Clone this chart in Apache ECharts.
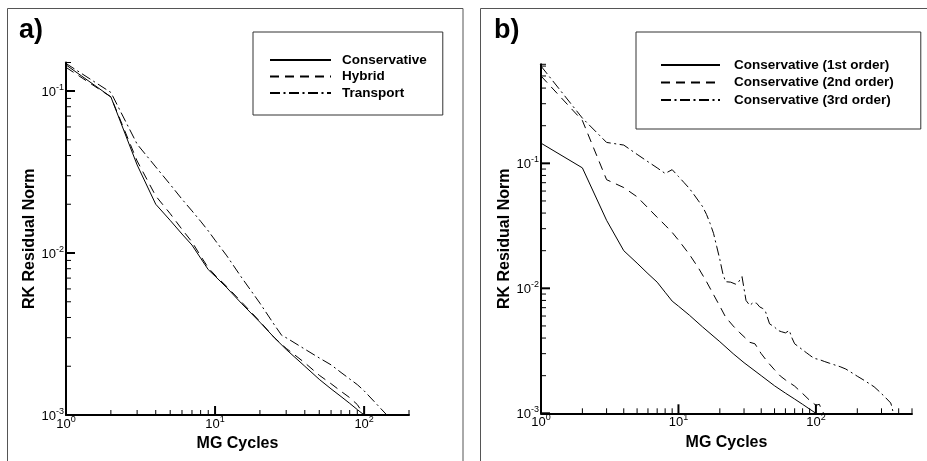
<!DOCTYPE html>
<html>
<head>
<meta charset="utf-8">
<script src="https://cdn.jsdelivr.net/npm/echarts@6/dist/echarts.min.js"></script>
<style>
  html, body { margin: 0; padding: 0; background: #fff; }
  #chart { width: 927px; height: 461px; }
</style>
</head>
<body>
<div id="chart"></div>
<script>
// panel a) : conservative / hybrid / transport
const cyclesA = [1, 2, 3, 4, 5, 6, 7, 8, 9, 10, 12, 15, 20, 25, 30, 40, 50, 60, 70, 80, 90, 100]
const conservative = [0.145, 0.092, 0.035, 0.020, 0.0159, 0.0131, 0.0112, 0.0093, 0.0079, 0.0072, 0.0061, 0.0049,
    0.00374, 0.0030, 0.00254, 0.0020, 0.00166, 0.00145, 0.0013, 0.00118, 0.00108, 0.001]
const hybrid = [0.140, 0.092, 0.037, 0.0225, 0.0175, 0.0140, 0.0117, 0.0096, 0.0081, 0.0073, 0.0062, 0.0050,
    0.00378, 0.0030, 0.00258, 0.0021, 0.00176, 0.00156, 0.0014, 0.00128, 0.00116, 0.001]
const cyclesTransport = [1, 2, 3, 4, 5, 6, 7, 8, 9, 10, 12, 15, 20, 25, 28, 30, 40, 50, 60, 70, 80, 90, 100, 120, 142]
const transport = [0.148, 0.098, 0.047, 0.034, 0.0265, 0.0215, 0.0182, 0.0157, 0.0137, 0.0120, 0.0096, 0.0071,
    0.0049, 0.0036, 0.0031, 0.0030, 0.00255, 0.00225, 0.00204, 0.00183, 0.00167, 0.00154, 0.00141, 0.00118, 0.001]

// panel b) : conservative, 1st / 2nd / 3rd order
const cycles1st = cyclesA
const order1st = conservative
const cycles2nd = [1, 2, 3, 4, 5, 6, 7, 8, 9, 10, 12, 14, 16, 18, 20, 22, 25, 28, 30, 33, 36, 40, 45, 50, 55, 60,
    70, 80, 90, 100, 106, 110, 114]
const order2nd = [0.50, 0.22, 0.074, 0.064, 0.054, 0.044, 0.037, 0.032, 0.028, 0.0243, 0.0187, 0.0145, 0.0113,
    0.0089, 0.0072, 0.0059, 0.0050, 0.0044, 0.0041, 0.0037, 0.0036, 0.0030, 0.00254, 0.00223, 0.00199, 0.00185,
    0.00165, 0.00144, 0.00127, 0.00116, 0.00118, 0.00106, 0.001]
const cycles3rd = [1, 2, 3, 4, 5, 6, 7, 8, 9, 10, 11, 12, 13, 14, 15, 16, 17, 18, 19, 20, 21, 22, 24, 26, 27, 29,
    31, 33, 35, 37, 39, 41, 43, 46, 50, 53, 56, 60, 64, 67, 70, 75, 80, 85, 90, 97, 105, 115, 125, 135, 150, 165,
    180, 200, 220, 240, 265, 290, 320, 350, 355, 366]
const order3rd = [0.60, 0.23, 0.147, 0.14, 0.118, 0.103, 0.092, 0.083, 0.089, 0.0785, 0.070, 0.063, 0.056, 0.050,
    0.045, 0.039, 0.033, 0.0275, 0.0215, 0.017, 0.0132, 0.0113, 0.0112, 0.0108, 0.011, 0.0124, 0.008, 0.0073,
    0.0077, 0.0076, 0.0071, 0.0069, 0.0065, 0.0052, 0.0049, 0.0046, 0.0045, 0.0044, 0.0046, 0.0040, 0.0036,
    0.0034, 0.00322, 0.00306, 0.00292, 0.00275, 0.0027, 0.0026, 0.00252, 0.00245, 0.00236, 0.00226, 0.00213,
    0.00198, 0.00186, 0.00175, 0.00163, 0.00149, 0.00134, 0.00121, 0.00115, 0.001]

// axis extents and tick decades
const xRangeA = [1, 200]
const yRangeA = [0.001, 0.15]
const xRangeB = [1, 500]
const yRangeB = [0.001, 0.62]
const xDecadesA = [1, 10, 100]
const yDecadesA = [0.001, 0.01, 0.1]
const xDecadesB = [1, 10, 100]
const yDecadesB = [0.001, 0.01, 0.1]
const minorSteps = [2, 3, 4, 5, 6, 7, 8, 9]

const FONT = '"Liberation Sans", Arial, Helvetica, sans-serif'
const SOLID = 'solid'
const DASHED = [9, 6]
const DASHDOT = [10, 3.5, 2, 3.5]

function zip(xs, ys) {
    return xs.map((x, i) => [x, ys[i]])
}

// tick list: [value, length, width]; majors at each decade, minors inside, last tick at axis end
function tickList(decades, range) {
    let out = []
    decades.forEach(d => {
        if (d >= range[0] && d <= range[1]) out.push([d, 9, 2])
        minorSteps.forEach(m => {
            let v = d * m
            if (v > range[0] && v < range[1] * 0.999) out.push([v, 5, 1])
        })
    })
    out.push([range[1], 5, 1])
    return out
}

function powLabel(v) {
    let e = Math.log10(v)
    let r = Math.round(e)
    if (Math.abs(e - r) > 1e-6) return ''
    return '{b|10}{s|' + r + '}'
}

const labelRich = {
    b: { fontSize: 13, fontFamily: FONT, color: '#000', lineHeight: 16, verticalAlign: 'bottom' },
    s: { fontSize: 9, fontFamily: FONT, color: '#000', lineHeight: 9, verticalAlign: 'top' }
}

function xAxisOpt(range, gridIndex) {
    return {
        type: 'log', logBase: 10, gridIndex: gridIndex,
        min: range[0], max: range[1],
        name: 'MG Cycles', nameLocation: 'middle', nameGap: 16,
        nameTextStyle: { fontSize: 16, fontWeight: 'bold', color: '#000', fontFamily: FONT },
        axisLine: { onZero: false, lineStyle: { color: '#000', width: 2 } },
        axisTick: { show: false },
        minorTick: { show: false },
        splitLine: { show: false },
        axisLabel: { formatter: powLabel, margin: 0, rich: labelRich, showMaxLabel: false }
    }
}

function yAxisOpt(range, gridIndex, gap) {
    return {
        type: 'log', logBase: 10, gridIndex: gridIndex,
        min: range[0], max: range[1],
        name: 'RK Residual Norm', nameLocation: 'middle', nameGap: gap,
        nameTextStyle: { fontSize: 16, fontWeight: 'bold', color: '#000', fontFamily: FONT },
        axisLine: { onZero: false, lineStyle: { color: '#000', width: 2 } },
        axisTick: { show: false },
        minorTick: { show: false },
        splitLine: { show: false },
        axisLabel: { formatter: powLabel, margin: 2, rich: labelRich, showMaxLabel: false }
    }
}

function lineSeries(name, xs, ys, type, axisIndex) {
    return {
        name: name, type: 'line', xAxisIndex: axisIndex, yAxisIndex: axisIndex,
        data: zip(xs, ys), symbol: 'none', z: 3,
        itemStyle: { color: '#000' },
        lineStyle: { color: '#000', width: 1, type: type }
    }
}

function tickSeries(ticks, axisIndex, horizontal, other) {
    return {
        type: 'custom', xAxisIndex: axisIndex, yAxisIndex: axisIndex, silent: true, z: 4,
        data: ticks.map(t => horizontal ? [t[0], other, t[1], t[2]] : [other, t[0], t[1], t[2]]),
        renderItem: function (params, api) {
            let p = api.coord([api.value(0), api.value(1)])
            let len = api.value(2)
            let shape = horizontal
                ? { x1: p[0], y1: p[1], x2: p[0], y2: p[1] - len }
                : { x1: p[0], y1: p[1], x2: p[0] + len, y2: p[1] }
            return { type: 'line', shape: shape, style: { stroke: '#000', lineWidth: api.value(3) } }
        }
    }
}

function legendOpt(names, left, top, padding, itemWidth, gap, textPad) {
    return {
        data: names, orient: 'vertical', left: left, top: top, padding: padding,
        itemWidth: itemWidth, itemHeight: 14, itemGap: gap, selectedMode: false,
        backgroundColor: '#fff', borderColor: '#333', borderWidth: 1,
        itemStyle: { opacity: 0 },
        textStyle: { fontSize: 13.5, fontWeight: 'bold', color: '#000', fontFamily: FONT, padding: [0, 0, 0, textPad] }
    }
}

let chart = echarts.init(document.getElementById('chart'))

const option = {
    animation: false,
    backgroundColor: '#fff',
    textStyle: { fontFamily: FONT },
    graphic: [
        { type: 'rect', silent: true, z: -1, shape: { x: 7.5, y: 8.5, width: 455.5, height: 470 },
          style: { fill: 'none', stroke: '#555', lineWidth: 1 } },
        { type: 'rect', silent: true, z: -1, shape: { x: 480.5, y: 8.5, width: 470, height: 470 },
          style: { fill: 'none', stroke: '#555', lineWidth: 1 } }
    ],
    title: [
        { text: 'a)', left: 19, top: 17, padding: 0,
          textStyle: { fontSize: 27, fontWeight: 'bold', color: '#000', fontFamily: FONT } },
        { text: 'b)', left: 494, top: 17, padding: 0,
          textStyle: { fontSize: 27, fontWeight: 'bold', color: '#000', fontFamily: FONT } }
    ],
    legend: [
        legendOpt(['Conservative', 'Hybrid', 'Transport'], 253, 32, [21, 16, 15, 16], 61, 2.5, 6),
        legendOpt(['Conservative (1st order)', 'Conservative (2nd order)', 'Conservative (3rd order)'],
            636, 32, [26, 27, 22, 24], 59, 3.5, 9)
    ],
    grid: [
        { left: 66, top: 62.5, width: 343, height: 352.5 },
        { left: 541, top: 64.3, width: 371, height: 349 }
    ],
    xAxis: [xAxisOpt(xRangeA, 0), xAxisOpt(xRangeB, 1)],
    yAxis: [yAxisOpt(yRangeA, 0, 25), yAxisOpt(yRangeB, 1, 26)],
    series: [
        lineSeries('Conservative', cyclesA, conservative, SOLID, 0),
        lineSeries('Hybrid', cyclesA, hybrid, DASHED, 0),
        lineSeries('Transport', cyclesTransport, transport, DASHDOT, 0),
        lineSeries('Conservative (1st order)', cycles1st, order1st, SOLID, 1),
        lineSeries('Conservative (2nd order)', cycles2nd, order2nd, DASHED, 1),
        lineSeries('Conservative (3rd order)', cycles3rd, order3rd, DASHDOT, 1),
        tickSeries(tickList(xDecadesA, xRangeA), 0, true, yRangeA[0]),
        tickSeries(tickList(yDecadesA, yRangeA), 0, false, xRangeA[0]),
        tickSeries(tickList(xDecadesB, xRangeB), 1, true, yRangeB[0]),
        tickSeries(tickList(yDecadesB, yRangeB), 1, false, xRangeB[0])
    ]
}

chart.setOption(option)
</script>
</body>
</html>
